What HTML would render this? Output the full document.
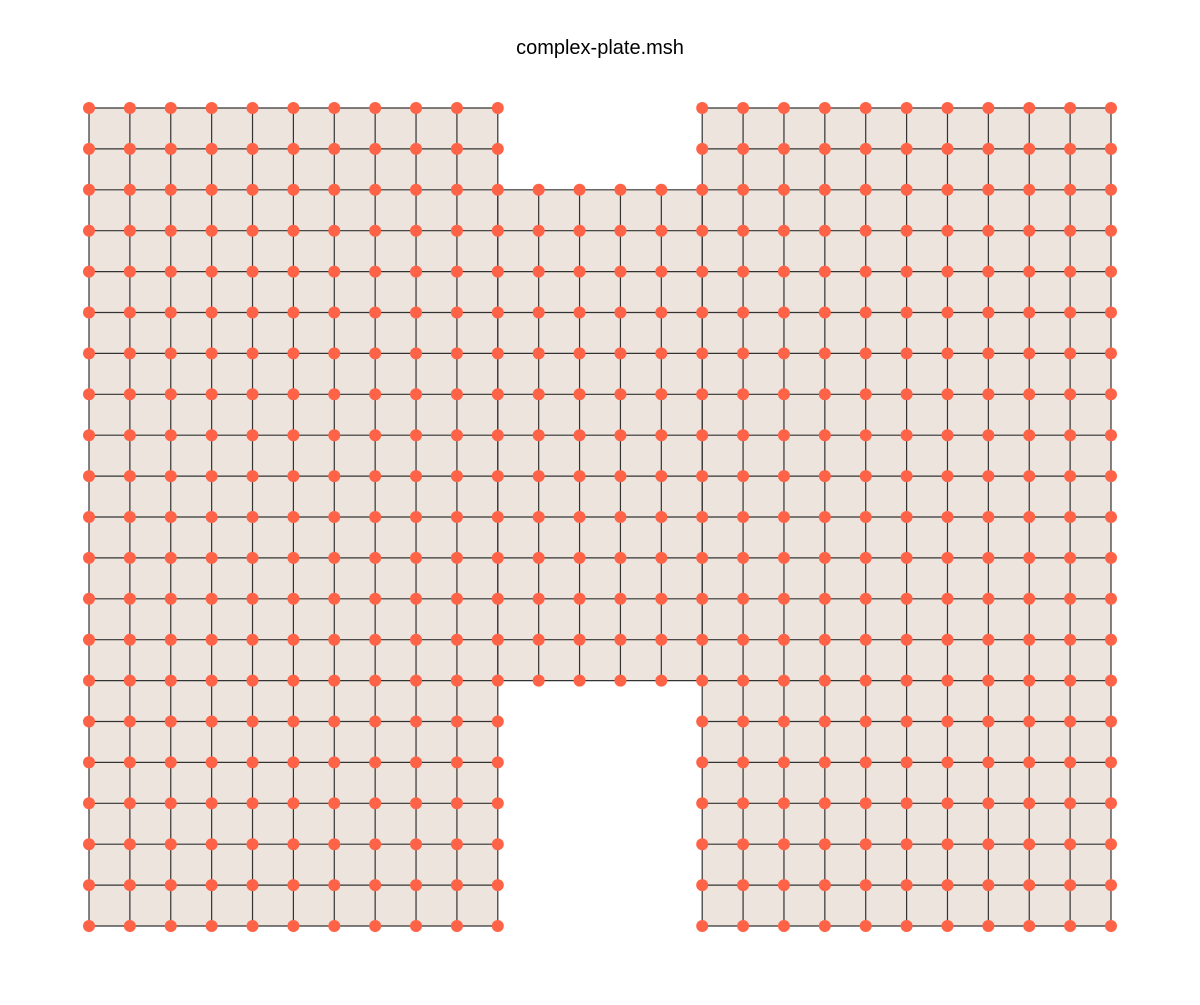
<!DOCTYPE html>
<html><head><meta charset="utf-8"><style>
body{margin:0;background:#fff;width:1200px;height:1000px;overflow:hidden}
</style></head><body>
<svg id="chart" width="1200" height="1000" xmlns="http://www.w3.org/2000/svg">
<text x="600" y="54" text-anchor="middle" font-family="Liberation Sans, sans-serif" font-size="20" fill="#000">complex-plate.msh</text>
<g id="cells"></g><g id="edges"></g><g id="nodes"></g>
</svg>
<script>
// mesh blocks: [colStart, colEnd, rowStart, rowEnd] in grid units
const blocks = [[0,10,0,20],[10,15,2,14],[15,25,0,20]];
const nCols = 25, nRows = 20;
const x0 = 89, x1 = 1111, y0 = 108, y1 = 926;
const sx = c => x0 + (x1 - x0) * c / nCols;
const sy = r => y0 + (y1 - y0) * r / nRows;
const NS = 'http://www.w3.org/2000/svg';
const cells = document.getElementById('cells'), edges = document.getElementById('edges'), nodesG = document.getElementById('nodes');
const seen = new Set();
blocks.forEach((b, bi) => {
  const [c0, c1, r0, r1] = b;
  const rect = document.createElementNS(NS, 'rect');
  
  
  rect.setAttribute('x', sx(c0)); rect.setAttribute('y', sy(r0));
  rect.setAttribute('width', sx(c1) - sx(c0)); rect.setAttribute('height', sy(r1) - sy(r0));
  rect.setAttribute('fill', '#ede4de');
  cells.appendChild(rect);
  for (let c = c0; c <= c1; c++) {
    const l = document.createElementNS(NS, 'line');
    
    
    l.setAttribute('x1', sx(c)); l.setAttribute('x2', sx(c));
    l.setAttribute('y1', sy(r0)); l.setAttribute('y2', sy(r1));
    l.setAttribute('stroke', '#333'); l.setAttribute('stroke-width', '1.2');
    edges.appendChild(l);
  }
  for (let r = r0; r <= r1; r++) {
    const l = document.createElementNS(NS, 'line');
    
    
    l.setAttribute('x1', sx(c0)); l.setAttribute('x2', sx(c1));
    l.setAttribute('y1', sy(r)); l.setAttribute('y2', sy(r));
    l.setAttribute('stroke', '#333'); l.setAttribute('stroke-width', '1.2');
    edges.appendChild(l);
  }
  for (let c = c0; c <= c1; c++) for (let r = r0; r <= r1; r++) {
    const k = c + ',' + r; if (seen.has(k)) continue; seen.add(k);
    const n = document.createElementNS(NS, 'circle');
    
    
    n.setAttribute('cx', sx(c)); n.setAttribute('cy', sy(r)); n.setAttribute('r', 6);
    n.setAttribute('fill', '#ff6347');
    nodesG.appendChild(n);
  }
});
</script>
</body></html>
